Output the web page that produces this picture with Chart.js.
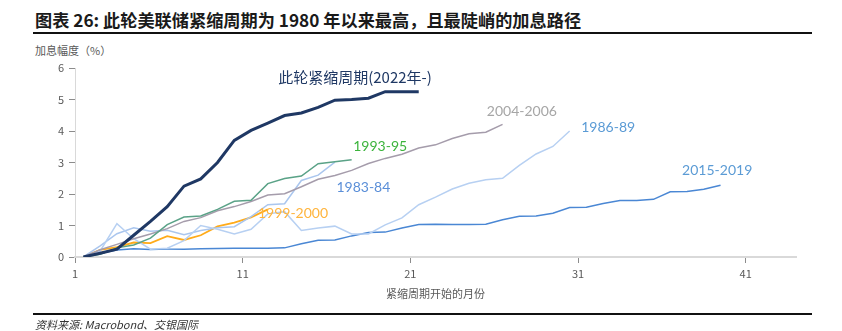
<!DOCTYPE html>
<html lang="zh-CN">
<head>
<meta charset="UTF-8">
<title>加息路径</title>
<script src="https://cdn.jsdelivr.net/npm/chart.js@4/dist/chart.umd.min.js"></script>
<style>
    html, body { margin: 0; padding: 0; background: #fff; }
    #wrap { position: relative; width: 842px; height: 331px; overflow: hidden; font-family: "Noto Sans CJK SC", sans-serif; }
    #title { position: absolute; left: 35px; top: 8px; font-size: 17.2px; line-height: 24px; font-weight: bold; color: #1a1a1a; white-space: nowrap; }
    .rule { position: absolute; left: 33px; width: 779px; height: 2px; background: #111; }
    #ytitle { position: absolute; left: 35px; top: 42px; font-size: 11px; line-height: 16px; color: #595959; }
    #source { position: absolute; left: 35px; top: 316px; font-size: 11px; line-height: 16px; font-style: italic; color: #333; }
    #chart { position: absolute; left: 0; top: 0; }
</style>
</head>
<body>
<div id="wrap">
    <div id="title">图表 26: 此轮美联储紧缩周期为 1980 年以来最高，且最陡峭的加息路径</div>
    <div class="rule" style="top:32px"></div>
    <div id="ytitle">加息幅度（%）</div>
    <canvas id="chart" width="842" height="331"></canvas>
    <div class="rule" style="top:313px"></div>
    <div id="source">资料来源: Macrobond、交银国际</div>
</div>
<script>
// 各轮加息周期: 相对周期起点的累计加息幅度 (%), 按月
const cycle2022 = [0, 0.12, 0.25, 0.69, 1.13, 1.6, 2.25, 2.48, 3.0, 3.7, 4.02, 4.25, 4.49, 4.57, 4.75, 4.98, 5.0, 5.04, 5.25, 5.25, 5.25];
const cycle1993 = [0, 0.09, 0.29, 0.38, 0.6, 1.03, 1.27, 1.3, 1.51, 1.77, 1.8, 2.33, 2.49, 2.57, 2.96, 3.02, 3.09];
const cycle2004 = [0, 0.23, 0.4, 0.58, 0.73, 0.9, 1.13, 1.25, 1.47, 1.6, 1.76, 1.97, 2.01, 2.23, 2.47, 2.59, 2.75, 2.97, 3.13, 3.26, 3.46, 3.56, 3.76, 3.91, 3.96, 4.21];
const cycle1986 = [0, 0.19, 1.06, 0.58, 0.25, 0.28, 0.52, 1.0, 0.88, 0.73, 0.88, 1.37, 1.44, 0.84, 0.92, 0.98, 0.73, 0.73, 1.02, 1.24, 1.66, 1.9, 2.16, 2.34, 2.45, 2.5, 2.91, 3.27, 3.51, 4.0];
const cycle1983 = [0, 0.35, 0.74, 0.93, 0.82, 0.85, 0.71, 0.84, 0.93, 0.96, 1.28, 1.66, 1.69, 2.43, 2.6, 3.01];
const cycle1999 = [0, 0.23, 0.31, 0.46, 0.44, 0.66, 0.54, 0.69, 0.97, 1.09, 1.26, 1.51];
const cycle2015 = [0, 0.12, 0.22, 0.26, 0.24, 0.25, 0.25, 0.26, 0.27, 0.28, 0.28, 0.28, 0.29, 0.42, 0.53, 0.54, 0.67, 0.78, 0.79, 0.92, 1.03, 1.04, 1.03, 1.03, 1.04, 1.18, 1.29, 1.3, 1.39, 1.57, 1.58, 1.7, 1.79, 1.79, 1.83, 2.07, 2.08, 2.15, 2.28];

const seriesNames = ['此轮紧缩周期(2022年-)', '1993-95', '2004-2006', '1986-89', '1983-84', '1999-2000', '2015-2019'];
const monthTicks = [1, 11, 21, 31, 41];
const yTicks = [0, 1, 2, 3, 4, 5, 6];

// 月份 k 画在第 k 个区间的中间
function toPoints(values) {
    return values.map((v, i) => ({ x: i + 1.5, y: v }));
}

// 线条样式
const lineStyles = [
    { color: '#1f3864', width: 3 },
    { color: '#5aa287', width: 1.5 },
    { color: '#a59cab', width: 1.5 },
    { color: '#b7d0f2', width: 1.5 },
    { color: '#aac6ee', width: 1.5 },
    { color: '#ffab1a', width: 1.8 },
    { color: '#4a87d4', width: 1.5 }
];
const allSeries = [cycle2022, cycle1993, cycle2004, cycle1986, cycle1983, cycle1999, cycle2015];

// 线旁文字标注 (数据坐标)
const tagStyles = [
    { x: 17.7, y: 5.69, color: '#1f3864', font: '15px "Noto Sans CJK SC"' },
    { x: 19.2, y: 3.52, color: '#3cb43c', font: '14px Lato' },
    { x: 27.65, y: 4.61, color: '#a6a6a6', font: '14px Lato' },
    { x: 32.8, y: 4.1, color: '#5b9bd5', font: '14px Lato' },
    { x: 18.2, y: 2.22, color: '#5b8fd8', font: '14px Lato' },
    { x: 14.0, y: 1.39, color: '#ffb43c', font: '14px Lato' },
    { x: 39.3, y: 2.76, color: '#5b9bd5', font: '14px Lato' }
];

const tagPlugin = {
    id: 'tags',
    afterDatasetsDraw(chart) {
        const ctx = chart.ctx;
        const xs = chart.scales.x, ys = chart.scales.y;
        ctx.save();
        ctx.textAlign = 'center';
        ctx.textBaseline = 'middle';
        seriesNames.forEach((name, i) => {
            const t = tagStyles[i];
            ctx.font = t.font;
            ctx.fillStyle = t.color;
            ctx.fillText(name, xs.getPixelForValue(t.x), ys.getPixelForValue(t.y));
        });
        ctx.restore();
    }
};

const datasets = allSeries.map((values, i) => ({
    label: seriesNames[i],
    data: toPoints(values),
    borderColor: lineStyles[i].color,
    borderWidth: lineStyles[i].width,
    pointRadius: 0,
    tension: 0,
    fill: false
}));

const axisFont = { family: '"Noto Sans CJK SC", sans-serif', size: 11 };

new Chart(document.getElementById('chart'), {
    type: 'line',
    data: { datasets: datasets },
    options: {
        responsive: false,
        animation: false,
        layout: { padding: { left: 45, right: 46, top: 68, bottom: 0 } },
        plugins: {
            legend: { display: false },
            tooltip: { enabled: false }
        },
        scales: {
            x: {
                type: 'linear',
                min: 1,
                max: 44,
                afterBuildTicks: scale => { scale.ticks = monthTicks.map(v => ({ value: v })); },
                afterFit: scale => { scale.height = 74; },
                ticks: { color: '#595959', font: axisFont, padding: 4, maxRotation: 0 },
                grid: { drawOnChartArea: false, drawTicks: true, tickLength: 6, color: '#8c8c8c' },
                border: { display: true, color: '#d9d9d9', width: 2 },
                title: {
                    display: true,
                    text: '紧缩周期开始的月份',
                    color: '#595959',
                    font: axisFont,
                    padding: { top: 0, bottom: 31 }
                }
            },
            y: {
                min: 0,
                max: 6,
                afterBuildTicks: scale => { scale.ticks = yTicks.map(v => ({ value: v })); },
                afterFit: scale => { scale.width = 30; },
                ticks: { color: '#595959', font: axisFont, padding: 5 },
                grid: { drawOnChartArea: false, drawTicks: true, tickLength: 6, color: '#8c8c8c' },
                border: { display: true, color: '#d9d9d9', width: 1 }
            }
        }
    },
    plugins: [tagPlugin]
});
</script>
</body>
</html>
